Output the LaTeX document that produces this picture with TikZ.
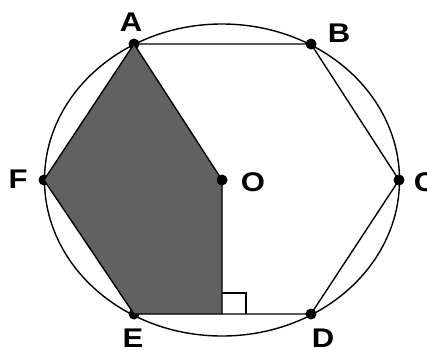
\documentclass[tikz,border=0pt]{standalone}
\usepackage{fontspec}
\setsansfont{Liberation Sans}
\usetikzlibrary{arrows,shapes}
\tikzstyle{pt}=[circle,fill=black,inner sep=0pt,minimum size=11pt]
\tikzstyle{lbl}=[font=\sffamily\bfseries\fontsize{27}{27}\selectfont,xscale=1.15,inner sep=0pt]
\tikzstyle{edge}=[line width=1.4pt]

\begin{document}
\begin{tikzpicture}[x=1pt,y=-1pt,edge]
\clip (0,0) rectangle (427,349);
\coordinate (O) at (222,180);
\node[pt] (A) at (134,44) {};
\node[pt] (B) at (311,44) {};
\node[pt] (C) at (399,180) {};
\node[pt] (D) at (311,314) {};
\node[pt] (E) at (134,314) {};
\node[pt] (F) at (44,180) {};
\coordinate (H) at (O |- E);
\fill[black!62] (A.center)--(F.center)--(E.center)--(H)--(O)--cycle;
\draw (O) ellipse [x radius=177.5,y radius=156];
\draw (A.center)--(B.center)--(C.center)--(D.center)--(E.center)--(F.center)--cycle;
\draw (A.center)--(O)--(H);
\draw ([yshift=21pt]H) -| ([xshift=24pt]H);
\node[pt] (Odot) at (O) {};
\node[lbl] (lA) at (131,22) {A};
\node[lbl] (lB) at (339,33) {B};
\node[lbl] (lC) at (425,182) {C};
\node[lbl] (lD) at (323,338) {D};
\node[lbl] (lE) at (133,338) {E};
\node[lbl] (lF) at (18,179) {F};
\node[lbl] (lO) at (253,182) {O};
\end{tikzpicture}
\end{document}
